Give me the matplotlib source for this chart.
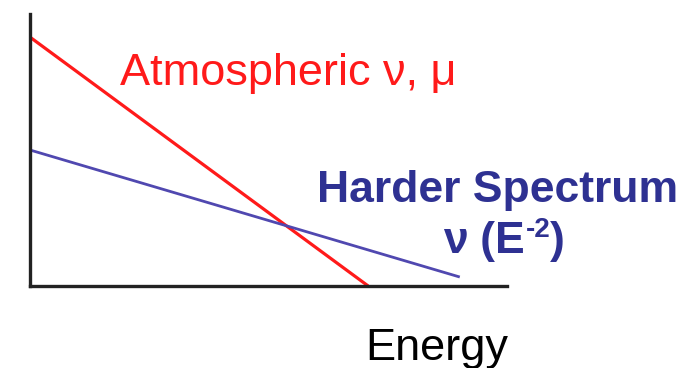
import matplotlib
matplotlib.use("Agg")
from matplotlib import pyplot as plt

# schematic flux vs energy (arbitrary units)
atm_energy = [0.0, 7.09]
atm_flux = [9.15, 0.0]
hard_energy = [0.0, 9.01]
hard_flux = [5.0, 0.33]

plt.rcParams['font.family'] = ['Liberation Sans', 'DejaVu Sans']

W, H = 687, 368
fig = plt.figure(figsize=(W / 100, H / 100), dpi=100)
ax = fig.add_axes([30 / W, (H - 286) / H, (507 - 30) / W, (286 - 14) / H])

ax.plot(atm_energy, atm_flux, color='#ff1a1a', lw=2.3, solid_capstyle='butt')
ax.plot(hard_energy, hard_flux, color='#5048b0', lw=2.0, solid_capstyle='butt')

ax.set_xlim(0, 10)
ax.set_ylim(0, 10)
ax.set_xticks([])
ax.set_yticks([])
for side in ['top', 'right']:
    ax.spines[side].set_visible(False)
for side in ['left', 'bottom']:
    ax.spines[side].set_linewidth(2.4)
    ax.spines[side].set_color('#222222')

blue = '#2e3192'
fig.text(120 / W, 1 - 85 / H, 'Atmospheric \u03bd, \u03bc', color='#ff1a1a',
         fontsize=32.5, ha='left', va='baseline')
fig.text(678 / W, 1 - 202 / H, 'Harder Spectrum', color=blue,
         fontsize=32, fontweight='bold', ha='right', va='baseline')

# "ν (E^-2)" built from pieces so the superscript keeps a short hyphen
t1 = fig.text(443 / W, 1 - 253 / H, '\u03bd (E', color=blue,
              fontsize=32, fontweight='bold', ha='left', va='baseline')
t2 = fig.text(0, 0, '-2', color=blue, fontsize=20, fontweight='bold')
t3 = fig.text(0, 0, ')', color=blue, fontsize=32, fontweight='bold')
fig.canvas.draw()
r = fig.canvas.get_renderer()
bb1 = t1.get_window_extent(r)
t2.set_position(((bb1.x1 + 1) / W, (H - 253 + 16) / H))
fig.canvas.draw()
bb2 = t2.get_window_extent(r)
t3.set_position((bb2.x1 / W, 1 - 253 / H))
t3.set_va('baseline')

fig.text(437 / W, 1 - 360 / H, 'Energy', color='black',
         fontsize=32.5, ha='center', va='baseline')

fig.savefig('out.png', dpi=100)
